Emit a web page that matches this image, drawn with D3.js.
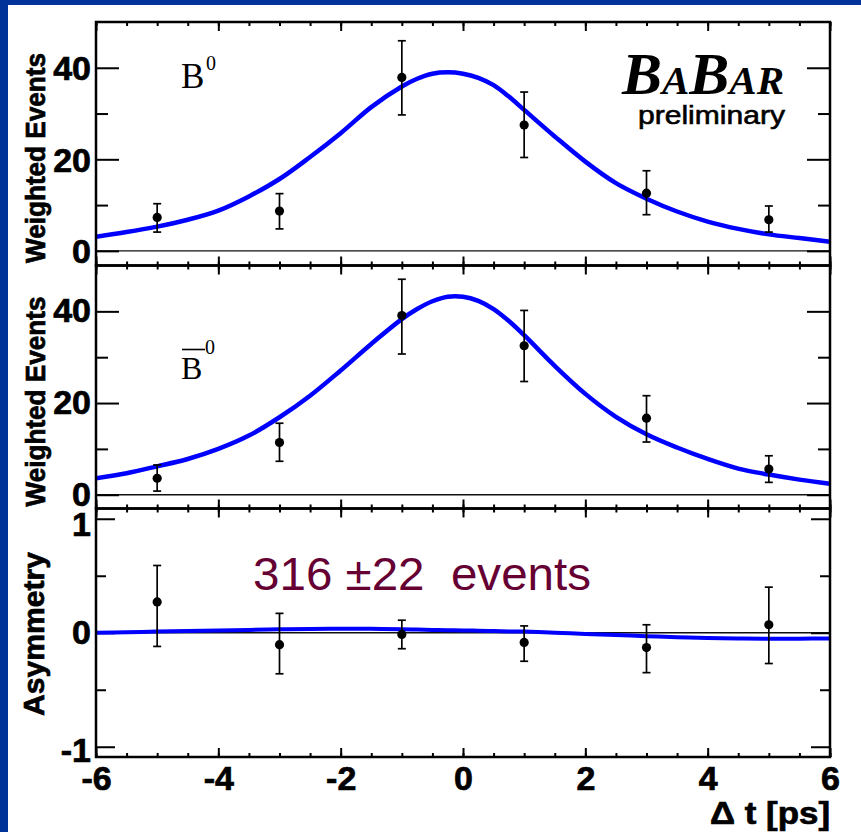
<!DOCTYPE html>
<html>
<head>
<meta charset="utf-8">
<script src="https://cdn.jsdelivr.net/npm/d3@7"></script>
<style>
  html, body { margin: 0; padding: 0; background: #003399; }
  svg { display: block; }
</style>
</head>
<body>
<script>
// Fit curves, sampled along delta t
const tFit = [-6, -5.5, -5, -4.5, -4, -3.5, -3, -2.5, -2, -1.5, -1, -0.75, -0.5, -0.25, 0, 0.25, 0.5, 0.75, 1, 1.5, 2, 2.5, 3, 3.5, 4, 4.5, 5, 5.5, 6];
const b0Fit = [3.1, 4.1, 5.3, 6.8, 8.8, 11.9, 15.7, 20.5, 25.7, 31.4, 35.9, 37.6, 38.7, 39.0, 38.7, 37.8, 36.2, 33.7, 30.8, 25.0, 19.5, 14.8, 11.4, 8.6, 6.4, 4.8, 3.6, 2.8, 2.0];
const b0barFit = [3.6, 4.7, 6.2, 7.8, 10.0, 12.9, 16.9, 21.6, 27.1, 32.9, 38.3, 40.5, 42.2, 43.2, 43.2, 42.3, 40.5, 37.9, 34.8, 28.1, 22.0, 17.0, 13.2, 10.3, 7.8, 5.7, 4.4, 3.3, 2.4];
const asymFit = [0.0, 0.005, 0.01, 0.015, 0.02, 0.025, 0.03, 0.033, 0.035, 0.034, 0.03, 0.028, 0.025, 0.022, 0.02, 0.018, 0.015, 0.012, 0.01, 0.0, -0.01, -0.02, -0.03, -0.04, -0.045, -0.05, -0.052, -0.052, -0.05];

// Binned data points with error bar ends
const tPoints = [-5, -3, -1, 1, 3, 5];
const b0Val = [7.3, 8.7, 37.9, 27.5, 12.6, 6.8];
const b0Hi = [10.3, 12.5, 45.9, 34.7, 17.5, 9.8];
const b0Lo = [4.1, 4.8, 29.7, 20.4, 7.9, 4.1];
const b0barVal = [3.6, 11.4, 39.1, 32.5, 16.7, 5.6];
const b0barHi = [6.5, 15.6, 47.0, 40.2, 21.6, 8.5];
const b0barLo = [0.8, 7.3, 30.7, 24.7, 11.5, 2.7];
const asymVal = [0.27, -0.105, -0.015, -0.085, -0.13, 0.07];
const asymHi = [0.59, 0.17, 0.11, 0.06, 0.07, 0.40];
const asymLo = [-0.12, -0.36, -0.14, -0.25, -0.35, -0.27];

// Tick labels
const xTickLabels = [-6, -4, -2, 0, 2, 4, 6];
const countTickLabels = [0, 20, 40];
const countMinor = [10, 30];
const asymTickLabels = [-1, 0, 1];
const asymMinor = [-0.5, 0.5];

const width = 861, height = 832;
const marginLeft = 96, plotRight = 830;
const sans = "'Liberation Sans', Arial, Helvetica, sans-serif";
const serif = "'Liberation Serif', 'Times New Roman', Times, serif";

const svg = d3.select("body").append("svg")
    .attr("width", width)
    .attr("height", height);

// blue slide border and white page
svg.append("rect").attr("width", width).attr("height", height).attr("fill", "#003399");
svg.append("rect").attr("x", 8).attr("y", 5).attr("width", width - 8).attr("height", height - 5).attr("fill", "white");

const x = d3.scaleLinear().domain([-6, 6]).range([marginLeft, plotRight]);

const panels = [
    { top: 22, bottom: 265.5, domain: [-3.2, 50], fit: b0Fit, val: b0Val, hi: b0Hi, lo: b0Lo,
      major: countTickLabels, minor: countMinor, majLen: 23, minLen: 12, width: 4.5, shift: () => 0 },
    { top: 265.5, bottom: 508.5, domain: [-3.0, 50], fit: b0barFit, val: b0barVal, hi: b0barHi, lo: b0barLo,
      major: countTickLabels, minor: countMinor, majLen: 23, minLen: 12, width: 4.5, shift: () => -1.5 },
    { top: 508.5, bottom: 757, domain: [-1.09, 1.09], fit: asymFit, val: asymVal, hi: asymHi, lo: asymLo,
      major: asymTickLabels, minor: asymMinor, majLen: 19, minLen: 10, width: 4, shift: d => d === 0 ? -1 : (d > 0 ? 5 : 3) }
];

const xMinor = d3.range(-6, 6.01, 0.5);
const xMajor = d3.range(-6, 6.01, 2);

const heavy = sel => sel
    .attr("font-family", sans).attr("font-weight", "bold")
    .attr("fill", "black").attr("stroke", "black").attr("stroke-width", 0.7);

panels.forEach((p, i) => {
    const y = d3.scaleLinear().domain(p.domain).range([p.bottom, p.top]);
    const g = svg.append("g");
    const clipId = "clip" + i;
    svg.append("clipPath").attr("id", clipId)
        .append("rect").attr("x", marginLeft).attr("y", p.top)
        .attr("width", plotRight - marginLeft).attr("height", p.bottom - p.top);

    // zero line
    g.append("line")
        .attr("x1", marginLeft).attr("x2", plotRight)
        .attr("y1", y(0)).attr("y2", y(0))
        .attr("stroke", "#111").attr("stroke-width", 1.3);

    // ticks: y left/right, x top/bottom
    const tickStyle = sel => sel.call(s => s.select(".domain").remove())
        .call(s => s.selectAll(".tick line").attr("stroke", "black").attr("stroke-width", 2));

    g.append("g").attr("transform", `translate(${marginLeft},0)`)
        .call(d3.axisLeft(y).tickValues(p.major).tickSize(-p.majLen).tickFormat("")).call(tickStyle);
    g.append("g").attr("transform", `translate(${marginLeft},0)`)
        .call(d3.axisLeft(y).tickValues(p.minor).tickSize(-p.minLen).tickFormat("")).call(tickStyle);
    g.append("g").attr("transform", `translate(${plotRight},0)`)
        .call(d3.axisRight(y).tickValues(p.major).tickSize(-p.majLen).tickFormat("")).call(tickStyle);
    g.append("g").attr("transform", `translate(${plotRight},0)`)
        .call(d3.axisRight(y).tickValues(p.minor).tickSize(-p.minLen).tickFormat("")).call(tickStyle);

    g.append("g").attr("transform", `translate(0,${p.top})`)
        .call(d3.axisTop(x).tickValues(xMinor).tickSize(-4).tickFormat("")).call(tickStyle);
    g.append("g").attr("transform", `translate(0,${p.top})`)
        .call(d3.axisTop(x).tickValues(xMajor).tickSize(-9).tickFormat("")).call(tickStyle);
    g.append("g").attr("transform", `translate(0,${p.bottom})`)
        .call(d3.axisBottom(x).tickValues(xMinor).tickSize(-4).tickFormat("")).call(tickStyle);
    g.append("g").attr("transform", `translate(0,${p.bottom})`)
        .call(d3.axisBottom(x).tickValues(xMajor).tickSize(-9).tickFormat("")).call(tickStyle);

    // y tick labels
    g.append("g").attr("transform", `translate(${marginLeft},0)`)
        .call(d3.axisLeft(y).tickValues(p.major).tickSize(0).tickPadding(5).tickFormat(d => String(d)))
        .call(s => s.select(".domain").remove())
        .call(s => s.selectAll("text")
            .attr("dy", d => (12 + p.shift(d)) + "px")
            .attr("font-size", 34).call(heavy));

    // fit curve
    const line = d3.line()
        .x((d, k) => x(tFit[k]))
        .y(d => y(d))
        .curve(d3.curveCatmullRom.alpha(0.5));
    g.append("path")
        .datum(p.fit)
        .attr("clip-path", `url(#${clipId})`)
        .attr("fill", "none")
        .attr("stroke", "#0000ff")
        .attr("stroke-width", p.width)
        .attr("d", line);

    // error bars + points
    const pts = g.append("g");
    tPoints.forEach((t, k) => {
        const px = x(t);
        pts.append("line").attr("x1", px).attr("x2", px)
            .attr("y1", y(p.hi[k])).attr("y2", y(p.lo[k]))
            .attr("stroke", "black").attr("stroke-width", 1.7);
        [p.hi[k], p.lo[k]].forEach(v => {
            pts.append("line").attr("x1", px - 4).attr("x2", px + 4)
                .attr("y1", y(v)).attr("y2", y(v))
                .attr("stroke", "black").attr("stroke-width", 1.7);
        });
        pts.append("circle").attr("cx", px).attr("cy", y(p.val[k])).attr("r", 4.6).attr("fill", "black");
    });

    // frame
    g.append("rect")
        .attr("x", marginLeft).attr("y", p.top)
        .attr("width", plotRight - marginLeft).attr("height", p.bottom - p.top)
        .attr("fill", "none").attr("stroke", "black").attr("stroke-width", 2.5);
});

// x tick labels under the last panel
svg.append("g").attr("transform", `translate(0,${panels[2].bottom})`)
    .call(d3.axisBottom(x).tickValues(xTickLabels).tickSize(0).tickPadding(9).tickFormat(d => String(d)))
    .call(s => s.select(".domain").remove())
    .call(s => s.selectAll("text").attr("font-size", 34).call(heavy));

// axis titles
svg.append("text")
    .attr("transform", "translate(45,263) rotate(-90)")
    .attr("font-size", 28).call(heavy)
    .attr("textLength", 210).attr("lengthAdjust", "spacingAndGlyphs")
    .text("Weighted Events");
svg.append("text")
    .attr("transform", "translate(45,506.5) rotate(-90)")
    .attr("font-size", 28).call(heavy)
    .attr("textLength", 210).attr("lengthAdjust", "spacingAndGlyphs")
    .text("Weighted Events");
svg.append("text")
    .attr("transform", "translate(44,634) rotate(-90)")
    .attr("text-anchor", "middle")
    .attr("font-size", 30).call(heavy)
    .attr("textLength", 164).attr("lengthAdjust", "spacingAndGlyphs")
    .text("Asymmetry");
svg.append("text")
    .attr("x", plotRight).attr("y", 824)
    .attr("text-anchor", "end")
    .attr("font-size", 31).call(heavy)
    .attr("textLength", 120).attr("lengthAdjust", "spacingAndGlyphs")
    .text("\u0394 t [ps]");

// panel labels
const b0 = svg.append("text").attr("x", 181).attr("y", 87.5)
    .attr("font-family", serif).attr("font-size", 35);
b0.append("tspan").text("B");
b0.append("tspan").attr("x", 206).attr("y", 70).attr("font-size", 20).text("0");

const b0bar = svg.append("text").attr("x", 181).attr("y", 378.5)
    .attr("font-family", serif).attr("font-size", 32);
b0bar.append("tspan").text("B");
b0bar.append("tspan").attr("x", 205).attr("y", 354).attr("font-size", 20).text("0");
svg.append("line").attr("x1", 182).attr("x2", 205).attr("y1", 349.5).attr("y2", 349.5)
    .attr("stroke", "black").attr("stroke-width", 1.6);

// BaBar logo
const logo = svg.append("text").attr("x", 622).attr("y", 94)
    .attr("font-family", serif).attr("font-weight", "bold").attr("font-style", "italic")
    .attr("textLength", 162).attr("lengthAdjust", "spacingAndGlyphs");
logo.append("tspan").attr("font-size", 60).text("B");
logo.append("tspan").attr("font-size", 41).text("A");
logo.append("tspan").attr("font-size", 60).text("B");
logo.append("tspan").attr("font-size", 41).text("AR");
svg.append("text").attr("x", 638).attr("y", 124)
    .attr("font-family", sans).attr("font-size", 26)
    .attr("stroke", "black").attr("stroke-width", 0.6)
    .attr("textLength", 147).attr("lengthAdjust", "spacingAndGlyphs")
    .text("preliminary");

// event count
svg.append("text").attr("x", 253).attr("y", 589.5)
    .attr("font-family", sans).attr("font-size", 46)
    .attr("fill", "#660033")
    .style("white-space", "pre")
    .attr("textLength", 338).attr("lengthAdjust", "spacingAndGlyphs")
    .text("316 \u00b122  events");
</script>
</body>
</html>
